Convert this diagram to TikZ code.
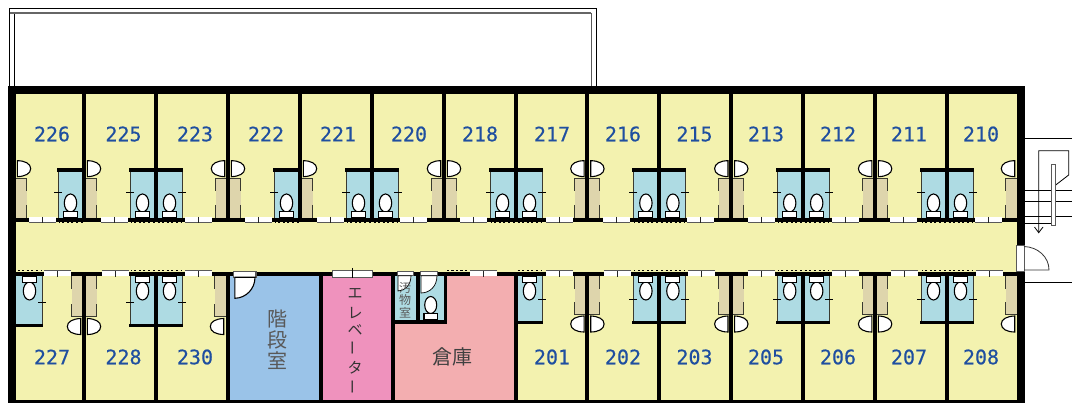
\documentclass[tikz,border=0pt]{standalone}
\usepackage{fontspec}
\newfontfamily\numf[FakeBold=0.35]{DejaVu Sans Mono}
\newfontfamily\cjk{Noto Sans CJK JP}
\definecolor{roomy}{HTML}{F3F2AF}
\definecolor{bathb}{HTML}{AEDBE3}
\definecolor{kittan}{HTML}{DED5AC}
\definecolor{stairb}{HTML}{9AC3E8}
\definecolor{liftp}{HTML}{EF92BD}
\definecolor{storep}{HTML}{F3AEB0}
\definecolor{numc}{HTML}{1F4FA0}
\definecolor{edgec}{HTML}{3A3A30}
\tikzset{
  wallfill/.style={fill=black,draw=none},
  thinline/.style={draw=black,line width=0.8pt},
  fix/.style={draw=black,fill=white,line width=1.1pt},
  roomnum/.style={font=\numf\fontsize{20}{20}\selectfont,text=numc,inner sep=0pt},
  jpbig/.style={font=\cjk\fontsize{20}{20}\selectfont,inner sep=0pt},
}
% local coordinates: u away from wall, v into the room from the corridor side
\newcommand{\dd}{0}
\newcommand{\TanU}{%
  \fill[kittan] (0,0) rectangle (12.5,38.3+\dd);
  \draw[edgec,line width=1pt] (0,38.3+\dd) -- (12.5,38.3+\dd) -- (12.5,26+\dd);
  \draw[edgec,line width=1pt] (12.5,13) -- (12.5,0);
  \draw[fix] (3.3,40+\dd) .. controls (11,40.3+\dd) and (16.7,43+\dd) .. (16.7,48+\dd)
     .. controls (16.7,53+\dd) and (11,56+\dd) .. (3.3,56+\dd) -- cycle;
}
\newcommand{\BathU}{%
  \fill[bathb] (0,0) rectangle (26,46+\dd);
  \draw[edgec,line width=1pt] (26,0) -- (26,46+\dd);
  \draw[black,line width=1pt] (22,24+\dd) -- (30,24+\dd);
  \fill[black] (0,45.3+\dd) rectangle (27,48.5+\dd);
  \draw[fix] (13.5,15) ellipse [x radius=6.2,y radius=9];
  \draw[fix] (6.5,0.5) rectangle (20.5,6.8);
  \draw[black,line width=1pt,dash pattern=on 2pt off 2.6pt] (1.5,-5) -- (25,-5);
}
\newcommand{\TT}[2]{\begin{scope}[shift={(#1,218)},xscale=#2,yscale=-1]\renewcommand{\dd}{1.3}\TanU\end{scope}}
\newcommand{\TB}[2]{\begin{scope}[shift={(#1,218)},xscale=#2,yscale=-1]\renewcommand{\dd}{1}\BathU\end{scope}}
\newcommand{\BT}[3]{\begin{scope}[shift={(#1,276)},xscale=#2]\renewcommand{\dd}{#3}\TanU\end{scope}}
\newcommand{\BB}[3]{\begin{scope}[shift={(#1,276)},xscale=#2]\renewcommand{\dd}{#3}\BathU\end{scope}}
% corridor doors
\newcommand{\TopDoor}[1]{%
  \fill[white] (#1,216.9) rectangle ++(27,5.6);
  \draw[gray!70!black,line width=0.8pt] (#1,222.6) -- ++(27,0);
  \draw[gray!30!black,line width=0.8pt] (#1+13.5,217) -- (#1+13.5,222.6);
}
\newcommand{\BotDoor}[1]{%
  \fill[white] (#1,270.9) rectangle ++(27,5.1);
  \draw[gray!70!black,line width=0.8pt] (#1,270.8) -- ++(27,0);
  \draw[gray!30!black,line width=0.8pt] (#1+13.5,270.8) -- (#1+13.5,277);
}
\begin{document}
\begin{tikzpicture}[x=1pt,y=-1pt]
\useasboundingbox (0,0) rectangle (1072,403);
\fill[white] (0,0) rectangle (1072,403);
% roof terrace
\draw[black,line width=0.8pt] (9.5,86) -- (9.5,8) -- (596,8) -- (596,86);
\draw[black,line width=0.8pt] (14.5,86) -- (14.5,13);
\draw[gray!80!black,line width=1.5pt] (9.5,12.8) -- (591,12.8);
\draw[gray!70!black,line width=1pt] (591,13) -- (591,86);
% floor fills
\fill[roomy] (8,86) rectangle (1025,403);
\fill[stairb] (228,276) rectangle (320,400);
\fill[liftp] (320,276) rectangle (393,400);
\fill[storep] (393,276) rectangle (516,400);
\fill[bathb] (395,276) rectangle (445,322);
% upper units
\TT{14}{1}
\TB{84}{-1}\TT{84}{1}
\TB{156}{-1}\TB{156}{1}
\TT{228}{-1}\TT{228}{1}
\TB{300}{-1}\TT{300}{1}
\TB{372}{-1}\TB{372}{1}
\TT{444}{-1}\TT{444}{1}
\TB{516}{-1}\TB{516}{1}
\TT{587.4}{-1}\TT{587.4}{1}
\TB{659.4}{-1}\TB{659.4}{1}
\TT{731.3}{-1}\TT{731.3}{1}
\TB{803.2}{-1}\TB{803.2}{1}
\TT{875.1}{-1}\TT{875.1}{1}
\TB{947}{-1}\TB{947}{1}
\TT{1018}{-1}
% lower units
\BB{16}{1}{2.5}
\BT{84}{-1}{2.5}\BT{84}{1}{2.5}
\BB{156}{-1}{2.5}\BB{156}{1}{2.5}
\BT{227}{-1}{2.5}
\BB{516}{1}{0}
\BT{587.4}{-1}{0}\BT{587.4}{1}{0}
\BB{659.4}{-1}{0}\BB{659.4}{1}{0}
\BT{731.3}{-1}{0}\BT{731.3}{1}{0}
\BB{803.2}{-1}{0}\BB{803.2}{1}{0}
\BT{875.1}{-1}{0}\BT{875.1}{1}{0}
\BB{947}{-1}{0}\BB{947}{1}{0}
\BT{1018}{-1}{0}
% walls
\fill[wallfill] (8,86) rectangle (1025,94);
\fill[wallfill] (8,86) rectangle (16,403);
\fill[wallfill] (1017,86) rectangle (1025,403);
\fill[wallfill] (8,400) rectangle (1025,403);
\fill[wallfill] (8,218) rectangle (1025,222);
\fill[wallfill] (8,272) rectangle (1025,276);
\foreach \x in {84,155.9,227.8,299.8,371.7,443.6,515.5,587.4,659.4,731.3,803.2,875.1,947}
  \fill[wallfill] (\x-2,86) rectangle (\x+2,222);
\foreach \x in {84,155.9,227.8,515.9,587.4,659.4,731.3,803.2,875.1,947}
  \fill[wallfill] (\x-2,272) rectangle (\x+2,403);
\fill[wallfill] (319,272) rectangle (323,403);
\fill[wallfill] (391,272) rectangle (395,403);
\fill[wallfill] (415.5,272) rectangle (420,322);
\fill[wallfill] (443.5,272) rectangle (446.5,324);
\fill[wallfill] (391,320.5) rectangle (446.5,324);
\fill[wallfill] (8,323) rectangle (16,326);
% corridor doors
\foreach \x in {29,101,185,245,317,400,460,546,603,687,748,832,890,975}
  \TopDoor{\x}
\foreach \x in {44,102,185,470,546,604,688,748,832,891,976}
  \BotDoor{\x}
\draw[black,line width=1pt,dash pattern=on 2pt off 2.6pt] (447,271) -- (469,271);
% stairwell door
\draw[fix,draw=gray!70!black] (233.3,271.7) rectangle (256,277.3);
\draw[fix] (234.8,277.3) -- (234.8,298.3) .. controls (246,298) and (255,289) .. (255,277.3) -- cycle;
% lift door
\draw[fix,draw=gray!70!black] (332.7,270.7) rectangle (372.7,277.3);
\draw[black,line width=0.8pt] (352.5,268) -- (352.5,278);
% sluice and WC doors
\draw[fix,draw=gray!70!black,line width=0.7pt] (397,271.3) rectangle (413,275.7);
\draw[fix,draw=gray!70!black,line width=0.7pt] (420.7,271.3) rectangle (437,275.7);
\draw[fix,line width=0.7pt] (421,275.7) -- (421,293) .. controls (430,293) and (437,286) .. (437,275.7) -- cycle;
\draw[fix] (430.7,305) ellipse [x radius=6,y radius=8.5];
\draw[fix] (424,313.3) rectangle (437.3,319.3);
\draw[fix,line width=0.7pt] (398,275.7) -- (398,291) .. controls (405,291) and (411,285) .. (411,275.7) -- cycle;
\node[font=\cjk\fontsize{12}{12}\selectfont,text=black!65,inner sep=0pt] (sa) at (405,288) {汚};
\node[font=\cjk\fontsize{12}{12}\selectfont,text=black!65,inner sep=0pt] (sb) at (405,300) {物};
\node[font=\cjk\fontsize{12}{12}\selectfont,text=black!65,inner sep=0pt] (sc) at (405,313) {室};
% room labels
\foreach \n/\x in {226/52,225/123.5,223/195,222/266,221/338,220/409,218/480,217/552,216/623,215/694.5,213/766,212/838,211/909,210/981}
  \node[roomnum] (r\n) at (\x,134) {\n};
\foreach \n/\x in {227/52,228/123.5,230/195,201/552,202/623,203/694.5,205/766,206/838,207/909,208/981}
  \node[roomnum] (r\n) at (\x,357) {\n};
\node[jpbig,text=black!65] (ka) at (277,319) {階};
\node[jpbig,text=black!65] (kb) at (277,340) {段};
\node[jpbig,text=black!65] (kc) at (277,360.5) {室};
\node[jpbig,text=black!75] (so) at (452,357) {倉庫};
\foreach \c/\y/\nm in {エ/293/ea,レ/313/eb,ベ/330/ec,タ/368/ee}
  \node[font=\cjk\fontsize{15}{15}\selectfont,text=black!80,inner sep=0pt] (\nm) at (355,\y) {\c};
\node[font=\cjk\fontsize{15}{15}\selectfont,text=black!80,inner sep=0pt,rotate=90] (ed) at (355,348) {ー};
\node[font=\cjk\fontsize{15}{15}\selectfont,text=black!80,inner sep=0pt,rotate=90] (ef) at (355,387) {ー};
% outside stairs
\draw[black,line width=0.8pt] (1025,138) -- (1072,138);
\draw[black,line width=0.8pt] (1025,190) -- (1072,190);
\draw[black,line width=0.8pt] (1025,201.7) -- (1072,201.7);
\draw[black,line width=0.8pt] (1025,216) -- (1072,216);
\draw[black,line width=0.8pt] (1025,223) -- (1051.7,223);
\draw[black,line width=0.8pt] (1038.7,232.7) -- (1038.7,150.7) -- (1068.7,150.7) -- (1068.7,175) -- (1055.7,185);
\draw[black,line width=0.8pt] (1034.5,227) -- (1038.7,232.7) -- (1043,227);
\draw[gray!70!black,fill=white,line width=0.8pt] (1051.7,164) rectangle (1055.7,225);
\draw[black,line width=0.8pt] (1025,282) -- (1072,282);
\draw[gray!70!black,fill=white,line width=0.9pt] (1016.8,245) rectangle (1024,271.7);
\draw[gray!40!black,line width=0.8pt] (1024,246.5) .. controls (1038,247) and (1049,257) .. (1049,270) -- (1024,270);
\end{tikzpicture}
\end{document}
